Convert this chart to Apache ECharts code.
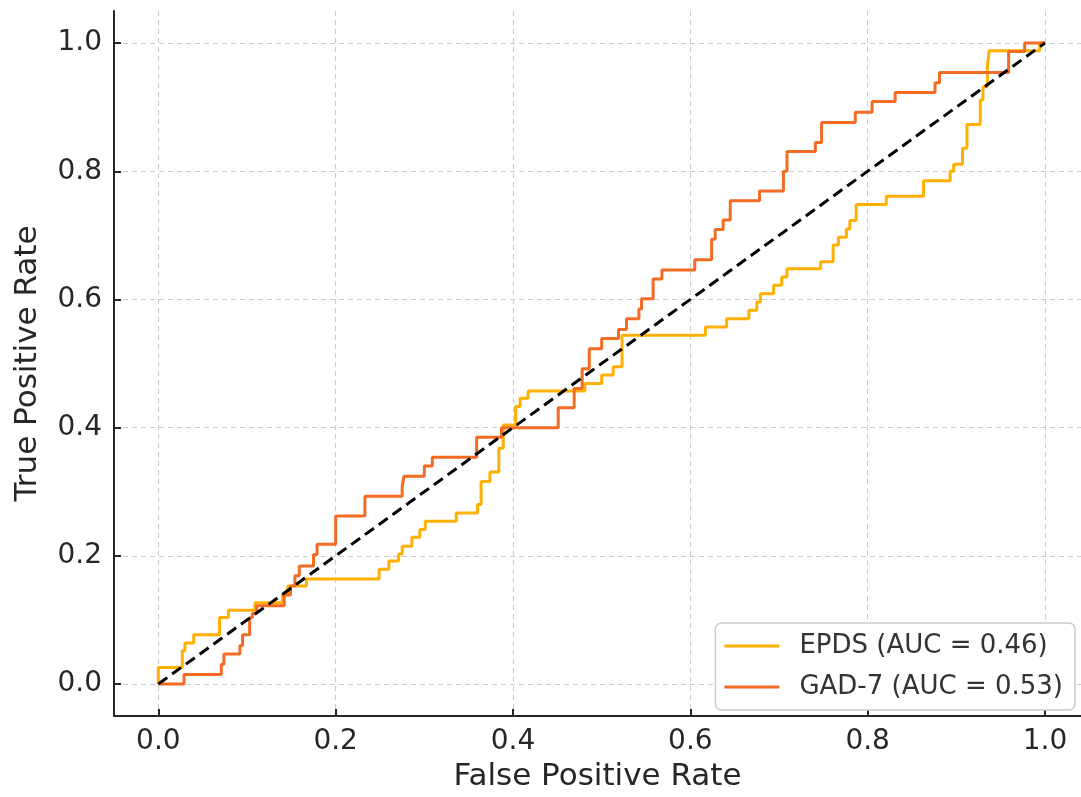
<!DOCTYPE html>
<html>
<head>
<meta charset="utf-8">
<script src="https://cdn.jsdelivr.net/npm/echarts@6/dist/echarts.min.js"></script>
<style>
html,body{margin:0;padding:0;background:#fff;}
#chart{width:1081px;height:797px;}
</style>
</head>
<body>
<div id="chart"></div>
<script>
// Tick values
const xTicks = [0, 0.2, 0.4, 0.6, 0.8, 1.0];
const yTicks = [0, 0.2, 0.4, 0.6, 0.8, 1.0];

// EPDS ROC (AUC = 0.46): false positive rate / true positive rate
const epdsFpr = [0,0,0.027,0.030,0.040,0.069,0.079,0.109,0.140,0.146,0.167,0.249,0.260,0.271,0.275,0.286,0.295,0.301,0.336,0.360,0.364,0.374,0.384,0.389,0.403,0.408,0.417,0.481,0.500,0.513,0.523,0.617,0.641,0.666,0.675,0.679,0.694,0.703,0.709,0.747,0.761,0.767,0.776,0.780,0.787,0.821,0.863,0.893,0.897,0.907,0.912,0.927,0.930,0.935,0.937,0.994,1.0];
const epdsTpr = [0,0.026,0.052,0.064,0.077,0.104,0.115,0.127,0.140,0.153,0.164,0.179,0.192,0.203,0.215,0.229,0.241,0.254,0.267,0.280,0.316,0.331,0.368,0.404,0.433,0.446,0.457,0.469,0.482,0.495,0.544,0.557,0.570,0.583,0.596,0.609,0.622,0.635,0.648,0.659,0.685,0.697,0.710,0.723,0.748,0.761,0.785,0.800,0.811,0.836,0.873,0.911,0.932,0.963,0.988,1.0,1.0];

// GAD-7 ROC (AUC = 0.53)
const gadFpr = [0,0.029,0.071,0.074,0.092,0.095,0.103,0.106,0.111,0.142,0.149,0.154,0.159,0.175,0.179,0.200,0.233,0.275,0.277,0.300,0.309,0.359,0.387,0.451,0.469,0.478,0.486,0.500,0.519,0.528,0.542,0.545,0.558,0.568,0.605,0.624,0.628,0.637,0.645,0.678,0.705,0.709,0.741,0.748,0.786,0.805,0.831,0.876,0.881,0.959,0.977,1.0];
const gadTpr = [0,0.015,0.031,0.047,0.060,0.077,0.104,0.110,0.122,0.139,0.153,0.169,0.184,0.202,0.218,0.262,0.293,0.308,0.324,0.340,0.354,0.385,0.400,0.431,0.461,0.492,0.523,0.539,0.553,0.570,0.585,0.601,0.632,0.646,0.662,0.694,0.709,0.724,0.754,0.769,0.800,0.831,0.845,0.876,0.892,0.909,0.923,0.938,0.954,0.987,1.0,1.0];

// Chance line
const chanceX = [0, 1];
const chanceY = [0, 1];

const seriesNames = ['EPDS (AUC = 0.46)', 'GAD-7 (AUC = 0.53)'];
const colors = ['#FFB000', '#F46B24'];

function pairs(xs, ys){ return xs.map((x,i)=>[x, ys[i]]); }

const chart = echarts.init(document.getElementById('chart'), null, {renderer:'canvas'});
const font = 'DejaVu Sans';
const axisCommon = {
  type: 'value',
  min: -0.05,
  max: 1.05,
  nameLocation: 'middle',
  nameTextStyle: {fontFamily: font, fontSize: 31, color: '#262626'},
  axisLine: {show: true, onZero: false, lineStyle: {color: '#262626', width: 2}},
  axisTick: {show: true, inside: true, length: 7, lineStyle: {color: '#262626', width: 2}},
  axisLabel: {fontFamily: font, fontSize: 28, color: '#262626', formatter: v => v.toFixed(1)},
  splitLine: {show: true, lineStyle: {color: '#cccccc', width: 1, type: [5, 4]}}
};

chart.setOption({
  animation: false,
  backgroundColor: '#ffffff',
  grid: {left: 114, top: 11, right: 0, bottom: 78, containLabel: false},
  xAxis: Object.assign({}, axisCommon, {
    max: 1.0406,
    name: 'False Positive Rate',
    nameGap: 44,
    axisTick: Object.assign({}, axisCommon.axisTick, {customValues: xTicks}),
    axisLabel: Object.assign({}, axisCommon.axisLabel, {customValues: xTicks, margin: 12})
  }),
  yAxis: Object.assign({}, axisCommon, {
    name: 'True Positive Rate',
    nameGap: 71,
    axisTick: Object.assign({}, axisCommon.axisTick, {customValues: yTicks}),
    axisLabel: Object.assign({}, axisCommon.axisLabel, {customValues: yTicks, margin: 12})
  }),
  legend: {
    orient: 'vertical',
    right: 6,
    bottom: 87,
    padding: [10, 12, 10, 9],
    itemGap: 15,
    itemWidth: 55,
    itemHeight: 3,
    backgroundColor: '#ffffff',
    borderColor: '#cccccc',
    borderWidth: 1.5,
    borderRadius: 6,
    textStyle: {fontFamily: font, fontSize: 26, color: '#333333', padding: [0, 0, 0, 15]},
    data: seriesNames.map((n, i) => ({name: n, icon: 'rect', itemStyle: {color: colors[i]}}))
  },
  series: [
    {
      name: seriesNames[0], type: 'line', step: 'end', showSymbol: false, symbol: 'none',
      data: pairs(epdsFpr, epdsTpr), color: colors[0],
      lineStyle: {color: colors[0], width: 3}, z: 3
    },
    {
      name: seriesNames[1], type: 'line', step: 'end', showSymbol: false, symbol: 'none',
      data: pairs(gadFpr, gadTpr), color: colors[1],
      lineStyle: {color: colors[1], width: 3}, z: 4
    },
    {
      name: 'chance', type: 'line', showSymbol: false, symbol: 'none',
      data: pairs(chanceX, chanceY),
      lineStyle: {color: '#000000', width: 3, type: [11, 6]}, z: 5
    }
  ]
});
</script>
</body>
</html>
